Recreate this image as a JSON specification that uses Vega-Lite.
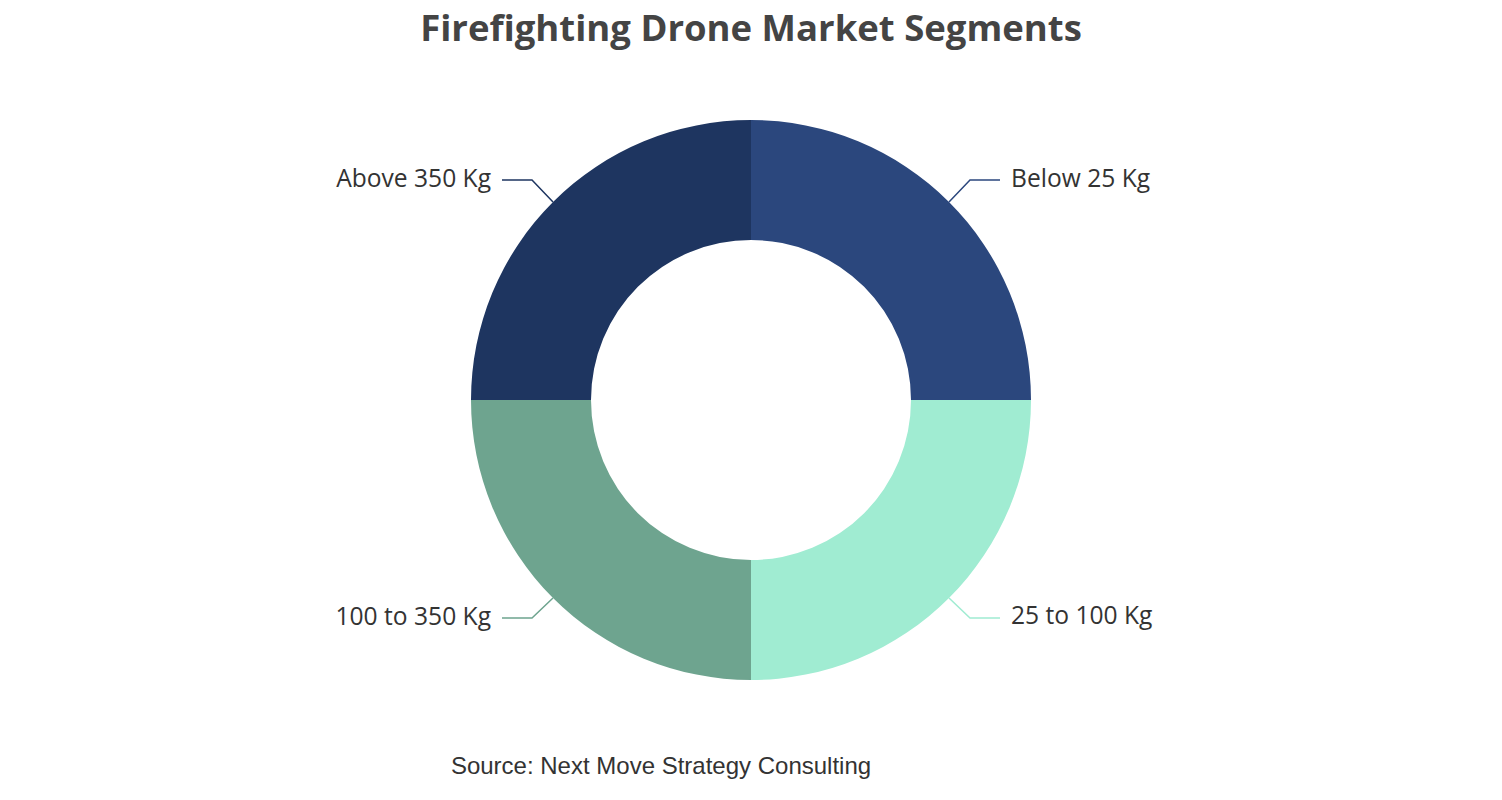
{
  "$schema": "https://vega.github.io/schema/vega-lite/v6.json",
  "title": {
    "text": "Firefighting Drone Market Segments",
    "anchor": "middle",
    "font": "Open Sans",
    "fontSize": 36.5,
    "fontWeight": "bold",
    "color": "#444444",
    "offset": 12
  },
  "width": 1502,
  "height": 740,
  "autosize": {"type": "none"},
  "padding": {"top": 60, "left": 0, "right": 0, "bottom": 0},
  "background": "#ffffff",
  "view": {"stroke": null},
  "datasets": {
    "slices": [
      {"segment": "Below 25 Kg", "rank": 1, "share": 25, "cx": 0, "cy": 0},
      {"segment": "25 to 100 Kg", "rank": 2, "share": 25, "cx": 0, "cy": 0},
      {"segment": "100 to 350 Kg", "rank": 3, "share": 25, "cx": 0, "cy": 0},
      {"segment": "Above 350 Kg", "rank": 4, "share": 25, "cx": 0, "cy": 0}
    ],
    "leaders": [
      {"segment": "Below 25 Kg", "step": 1, "lx": 198, "ly": 198},
      {"segment": "Below 25 Kg", "step": 2, "lx": 219, "ly": 220},
      {"segment": "Below 25 Kg", "step": 3, "lx": 249, "ly": 220},
      {"segment": "25 to 100 Kg", "step": 1, "lx": 198, "ly": -198},
      {"segment": "25 to 100 Kg", "step": 2, "lx": 219, "ly": -218},
      {"segment": "25 to 100 Kg", "step": 3, "lx": 249, "ly": -218},
      {"segment": "100 to 350 Kg", "step": 1, "lx": -198, "ly": -198},
      {"segment": "100 to 350 Kg", "step": 2, "lx": -219, "ly": -218},
      {"segment": "100 to 350 Kg", "step": 3, "lx": -249, "ly": -218},
      {"segment": "Above 350 Kg", "step": 1, "lx": -198, "ly": 198},
      {"segment": "Above 350 Kg", "step": 2, "lx": -219, "ly": 220},
      {"segment": "Above 350 Kg", "step": 3, "lx": -249, "ly": 220}
    ],
    "labels": [
      {"segment": "Below 25 Kg", "tx": 260, "ty": 220, "side": "right"},
      {"segment": "25 to 100 Kg", "tx": 260, "ty": -217, "side": "right"},
      {"segment": "100 to 350 Kg", "tx": -260, "ty": -218, "side": "left"},
      {"segment": "Above 350 Kg", "tx": -260, "ty": 220, "side": "left"}
    ],
    "notes": [
      {"note": "Source: Next Move Strategy Consulting", "nx": -90, "ny": -367}
    ]
  },
  "layer": [
    {
      "data": {"name": "slices"},
      "mark": {"type": "arc", "radius": 280, "radius2": 160},
      "encoding": {
        "theta": {"field": "share", "type": "quantitative", "stack": true},
        "order": {"field": "rank", "type": "quantitative"},
        "x": {"field": "cx", "type": "quantitative", "scale": {"domain": [-751, 751], "nice": false, "zero": false}, "axis": null},
        "y": {"field": "cy", "type": "quantitative", "scale": {"domain": [-400, 340], "nice": false, "zero": false}, "axis": null},
        "color": {
          "field": "segment",
          "type": "nominal",
          "scale": {
            "domain": ["Below 25 Kg", "25 to 100 Kg", "100 to 350 Kg", "Above 350 Kg"],
            "range": ["#2b477d", "#a0ecd2", "#6ea48f", "#1e3560"]
          },
          "legend": null
        }
      }
    },
    {
      "data": {"name": "leaders"},
      "mark": {"type": "line", "strokeWidth": 1.5},
      "encoding": {
        "x": {"field": "lx", "type": "quantitative"},
        "y": {"field": "ly", "type": "quantitative"},
        "order": {"field": "step", "type": "quantitative"},
        "detail": {"field": "segment", "type": "nominal"},
        "color": {"field": "segment", "type": "nominal", "legend": null}
      }
    },
    {
      "data": {"name": "labels"},
      "transform": [{"filter": "datum.side === 'right'"}],
      "mark": {"type": "text", "align": "left", "baseline": "middle", "font": "Open Sans", "fontSize": 24.6, "color": "#333333"},
      "encoding": {
        "x": {"field": "tx", "type": "quantitative"},
        "y": {"field": "ty", "type": "quantitative"},
        "text": {"field": "segment"}
      }
    },
    {
      "data": {"name": "labels"},
      "transform": [{"filter": "datum.side === 'left'"}],
      "mark": {"type": "text", "align": "right", "baseline": "middle", "font": "Open Sans", "fontSize": 24.6, "color": "#333333"},
      "encoding": {
        "x": {"field": "tx", "type": "quantitative"},
        "y": {"field": "ty", "type": "quantitative"},
        "text": {"field": "segment"}
      }
    },
    {
      "data": {"name": "notes"},
      "mark": {"type": "text", "align": "center", "baseline": "middle", "font": "Liberation Sans", "fontSize": 24, "color": "#333333"},
      "encoding": {
        "x": {"field": "nx", "type": "quantitative"},
        "y": {"field": "ny", "type": "quantitative"},
        "text": {"field": "note"}
      }
    }
  ]
}
